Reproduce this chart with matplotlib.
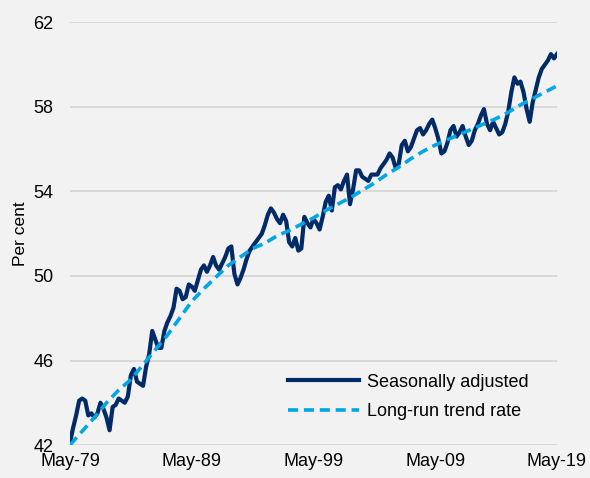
"""
Female participation rate: seasonally adjusted vs long-run trend.
"""
import numpy as np
import pandas as pd
import matplotlib
matplotlib.use('Agg')
import matplotlib.pyplot as plt
import matplotlib.dates as mdates

plt.rcParams['font.family'] = ['Liberation Sans', 'DejaVu Sans']

# quarterly readings, May-79 .. May-19
sa_start = '1979-05-01'
sa_values = [
    42.1, 42.8, 43.4, 44.1, 44.2, 44.1, 43.4, 43.5,
    43.3, 43.5, 44.0, 43.7, 43.3, 42.7, 43.8, 43.9,
    44.2, 44.1, 44.0, 44.3, 45.3, 45.6, 45.0, 44.9,
    44.8, 45.7, 46.3, 47.4, 47.0, 46.6, 46.6, 47.4,
    47.8, 48.1, 48.5, 49.4, 49.3, 48.9, 49.0, 49.6,
    49.5, 49.3, 49.8, 50.3, 50.5, 50.2, 50.5, 50.9,
    50.5, 50.3, 50.6, 50.9, 51.3, 51.4, 50.1, 49.6,
    49.9, 50.3, 50.8, 51.2, 51.4, 51.6, 51.8, 52.0,
    52.4, 52.9, 53.2, 53.0, 52.7, 52.5, 52.9, 52.6,
    51.6, 51.4, 51.8, 51.2, 51.3, 52.8, 52.5, 52.3,
    52.7, 52.5, 52.2, 52.8, 53.5, 53.8, 53.1, 54.2,
    54.3, 54.1, 54.5, 54.8, 53.4, 54.1, 55.0, 55.0,
    54.7, 54.6, 54.5, 54.8, 54.8, 54.8, 55.1, 55.3,
    55.5, 55.8, 55.6, 55.1, 55.3, 56.2, 56.4, 55.9,
    56.1, 56.5, 56.9, 57.0, 56.7, 56.9, 57.2, 57.4,
    57.0, 56.5, 55.8, 55.9, 56.3, 56.9, 57.1, 56.6,
    56.8, 57.1, 56.6, 56.2, 56.4, 56.9, 57.2, 57.6,
    57.9, 57.2, 56.9, 57.3, 57.0, 56.7, 56.8, 57.2,
    57.8, 58.7, 59.4, 59.1, 59.2, 58.7, 57.9, 57.3,
    58.2, 58.8, 59.4, 59.8, 60.0, 60.2, 60.5, 60.3,
    60.5,
]

# annual (May) readings of the long-run trend
trend_start = '1979-05-01'
trend_values = [
    42.0, 42.65, 43.3, 44.0, 44.6, 45.1, 45.8, 46.5, 47.2, 48.0,
    48.8, 49.4, 49.95, 50.5, 50.9, 51.3, 51.55, 51.9, 52.15, 52.45,
    52.75, 53.1, 53.4, 53.7, 54.05, 54.4, 54.8, 55.15, 55.55, 55.9,
    56.2, 56.45, 56.7, 56.95, 57.2, 57.45, 57.75, 58.1, 58.4, 58.7,
    59.0,
]

y_ticks = [42, 46, 50, 54, 58, 62]
x_tick_years = [1979, 1989, 1999, 2009, 2019]

sa_dates = pd.date_range(sa_start, periods=len(sa_values), freq='3MS')
trend_dates = pd.date_range(trend_start, periods=len(trend_values), freq='12MS')

bg = '#F2F2F2'
fig = plt.figure(figsize=(5.9, 4.78), dpi=100, facecolor=bg)
ax = fig.add_axes([0.1186, 0.069, 0.8254, 0.884], facecolor=bg)

ax.plot(sa_dates, sa_values, color='#002B66', linewidth=3.0,
        solid_joinstyle='round', label='Seasonally adjusted', zorder=3)
ax.plot(trend_dates, trend_values, color='#00A6E6', linewidth=2.6,
        linestyle=(0, (2.8, 1.6)), label='Long-run trend rate', zorder=4)

ax.set_ylim(42, 62)
ax.set_yticks(y_ticks)
ax.set_xlim(pd.Timestamp('1979-05-01'), pd.Timestamp('2019-05-01'))
ax.set_xticks([pd.Timestamp(f'{y}-05-01') for y in x_tick_years])
ax.xaxis.set_major_formatter(mdates.DateFormatter('%b-%y'))

ax.grid(axis='y', color='#D9D9D9', linewidth=1.4, zorder=0)
for s in ax.spines.values():
    s.set_visible(False)
ax.tick_params(axis='both', length=0, labelsize=13, colors='black')
ax.tick_params(axis='y', pad=12)
ax.tick_params(axis='x', pad=6)
ax.set_ylabel('Per cent', fontsize=12.5, labelpad=4)

ax.legend(loc='lower right', bbox_to_anchor=(0.975, 0.02), frameon=False,
          fontsize=13, handlelength=3.9, handletextpad=0.45,
          labelspacing=0.7)

fig.savefig('out.png', dpi=100, facecolor=bg)
